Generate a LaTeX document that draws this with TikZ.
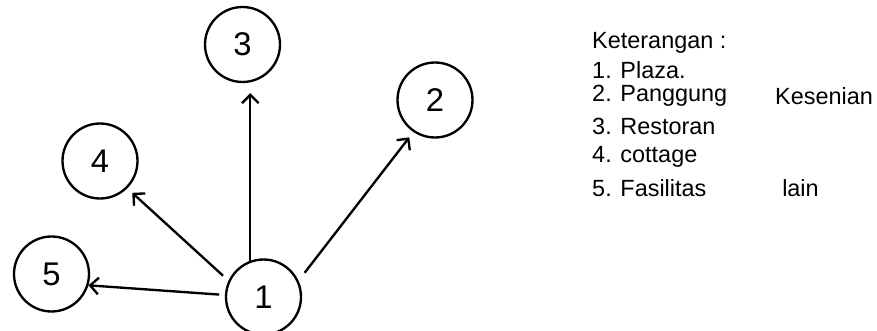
\documentclass[tikz,border=0pt]{standalone}
\usepackage{fontspec}
\setmainfont{Liberation Sans}
\usetikzlibrary{arrows.meta,positioning}

\tikzstyle{arrow} = [draw, line width=2pt, -{Straight Barb[length=2.5mm,width=5mm]}]
\tikzstyle{place} = [draw, circle, line width=2pt, minimum size=2.25cm, inner sep=0pt, font=\fontsize{28}{32}\selectfont]
\tikzstyle{legend} = [anchor=west, inner sep=0pt, font=\fontsize{20}{24}\selectfont]

\begin{document}
\begin{tikzpicture}
    \useasboundingbox (0,0) rectangle (26.31,9.9);

    % places
    \node[place] (c1) at (7.905,0.99) {1};
    \node[place] (c2) at (13.05,6.9) {2};
    \node[place] (c3) at (7.275,8.565) {3};
    \node[place] (c4) at (3.0,5.07) {4};
    \node[place] (c5) at (1.545,1.68) {5};

    % arrows
    \path[arrow, shorten >=0.3cm] (c1.110) -- (c1.110 |- c3.south);
    \path[arrow, shorten <=0.3cm, shorten >=0.2cm] (c1.25) -- (c2.236);
    \path[arrow, shorten <=0.22cm, shorten >=0.2cm] (c1.155) -- (c4.-45);
    \path[arrow, shorten <=0.17cm] (c1.177) -- (c5.-17);

    % legend
    \node[legend] (k0) at (17.76,8.61) {Keterangan :};
    \node[legend] (k1) at (17.76,7.8) {1. Plaza.};
    \node[legend] (k2) at (17.76,7.02) {2. Panggung};
    \node[legend] (k2b) at (23.25,7.02) {Kesenian};
    \node[legend] (k3) at (17.76,6.12) {3. Restoran};
    \node[legend] (k4) at (17.76,5.19) {4. cottage};
    \node[legend] (k5) at (17.76,4.26) {5. Fasilitas};
    \node[legend] (k5b) at (23.46,4.26) {lain};
\end{tikzpicture}
\end{document}
